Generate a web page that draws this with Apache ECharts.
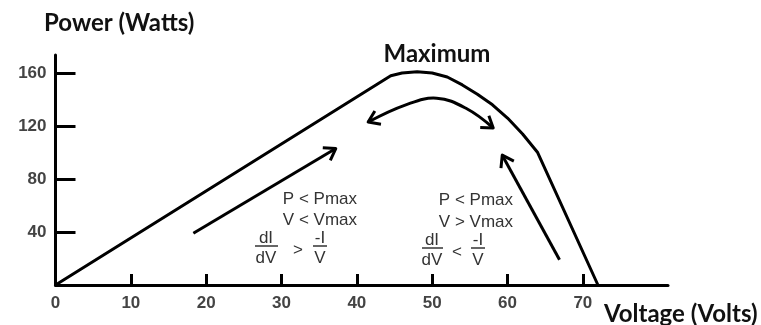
<!DOCTYPE html>
<html>
<head>
<meta charset="utf-8">
<script src="https://cdn.jsdelivr.net/npm/echarts@6/dist/echarts.min.js"></script>
<style>
  html, body { margin: 0; padding: 0; background: #fff; }
  #chart { width: 761px; height: 325px; }
</style>
</head>
<body>
<div id="chart"></div>
<script>
// P-V curve of the panel (volts, watts)
const voltage = [0, 44.5, 46, 48, 50, 52, 54, 56, 58, 60, 62, 64, 72];
const power = [0, 158, 160, 161, 160, 157, 151, 144, 136, 126, 114, 100, 0];

const xTicks = [10, 20, 30, 40, 50, 60, 70];
const xLabels = [0, 10, 20, 30, 40, 50, 60, 70];
const yTicks = [40, 80, 120, 160];

// arrows drawn along the curve, in data units [V, W]
const arrowLeft = [[18.3, 39], [37.2, 103]];
const arrowRight = [[66.9, 19], [59.3, 98]];
const arrowTop = [[41.5, 123], [46.5, 136], [50.6, 141], [54.6, 133], [58.1, 118.5]];
const arrows = [
  { pts: arrowLeft, both: false },
  { pts: arrowRight, both: false },
  { pts: arrowTop, both: true },
];

const labelFont = { color: '#444', fontFamily: 'Liberation Sans', fontWeight: 'bold', fontSize: 17 };
const noteFont = { fill: '#333', fontFamily: 'Liberation Sans', fontSize: 17 };
const titleFont = { fill: '#111', fontFamily: 'Lato', fontWeight: 'bold', fontSize: 24, verticalAlign: 'middle' };

function head(tip, from) {
  const dx = tip[0] - from[0];
  const dy = tip[1] - from[1];
  const a = Math.atan2(dy, dx);
  const len = 13;
  const spread = 0.6;
  return [
    [tip[0] - len * Math.cos(a - spread), tip[1] - len * Math.sin(a - spread)],
    tip,
    [tip[0] - len * Math.cos(a + spread), tip[1] - len * Math.sin(a + spread)],
  ];
}

function renderArrow(params, api) {
  const a = arrows[params.dataIndex];
  const pts = a.pts.map(p => api.coord(p));
  const style = { stroke: '#000', lineWidth: 3, fill: null, lineJoin: 'round' };
  const n = pts.length;
  const children = [
    { type: 'polyline', shape: { points: pts, smooth: n > 2 ? 0.4 : 0 }, style },
    { type: 'polyline', shape: { points: head(pts[n - 1], pts[n - 2]) }, style },
  ];
  if (a.both) {
    children.push({ type: 'polyline', shape: { points: head(pts[0], pts[1]) }, style });
  }
  return { type: 'group', children };
}

function txt(x, y, text, align) {
  return {
    type: 'text', x, y,
    style: Object.assign({ text, align: align || 'center', verticalAlign: 'middle' }, noteFont),
  };
}
function bar(x1, x2, y) {
  return { type: 'line', shape: { x1, y1: y, x2, y2: y }, style: { stroke: '#333', lineWidth: 1.5 } };
}

const chart = echarts.init(document.getElementById('chart'));

chart.setOption({
  animation: false,
  grid: { left: 55.5, right: 93, top: 55, bottom: 40 },
  xAxis: {
    type: 'value',
    min: 0,
    max: 81.3,
    axisLine: { lineStyle: { color: '#000', width: 3 } },
    axisTick: { inside: true, length: 11, customValues: xTicks, lineStyle: { color: '#000', width: 3 } },
    axisLabel: Object.assign({ customValues: xLabels, margin: 10 }, labelFont),
    splitLine: { show: false },
  },
  yAxis: {
    type: 'value',
    min: 0,
    max: 173.6,
    axisLine: { show: true, lineStyle: { color: '#000', width: 3 } },
    axisTick: { show: true, inside: true, length: 20, customValues: yTicks, lineStyle: { color: '#000', width: 3 } },
    axisLabel: Object.assign({ customValues: yTicks, margin: 9 }, labelFont),
    splitLine: { show: false },
  },
  series: [
    {
      type: 'line',
      data: voltage.map((v, i) => [v, power[i]]),
      symbol: 'none',
      lineStyle: { color: '#000', width: 3 },
      z: 3,
    },
    {
      type: 'custom',
      data: arrows.map(a => [a.pts[0][0], a.pts[0][1]]),
      renderItem: renderArrow,
      clip: false,
      z: 4,
    },
  ],
  graphic: [
    { type: 'text', x: 44, y: 23, style: Object.assign({ text: 'Power (Watts)' }, titleFont) },
    { type: 'text', x: 437, y: 54, style: Object.assign({ text: 'Maximum', align: 'center' }, titleFont) },
    { type: 'text', x: 604, y: 314, style: Object.assign({ text: 'Voltage (Volts)' }, titleFont) },

    txt(357, 199, 'P < Pmax', 'right'),
    txt(357, 220, 'V < Vmax', 'right'),
    txt(266, 238, 'dI'), bar(255, 278, 246), txt(266, 258, 'dV'),
    txt(298, 250, '>'),
    txt(320, 238, '-I'), bar(313, 327, 246), txt(320, 258, 'V'),

    txt(513, 200, 'P < Pmax', 'right'),
    txt(513, 222, 'V > Vmax', 'right'),
    txt(432, 240, 'dI'), bar(422, 443, 248), txt(432, 260, 'dV'),
    txt(457, 252, '<'),
    txt(478, 240, '-I'), bar(471, 485, 248), txt(478, 260, 'V'),
  ],
});
</script>
</body>
</html>
